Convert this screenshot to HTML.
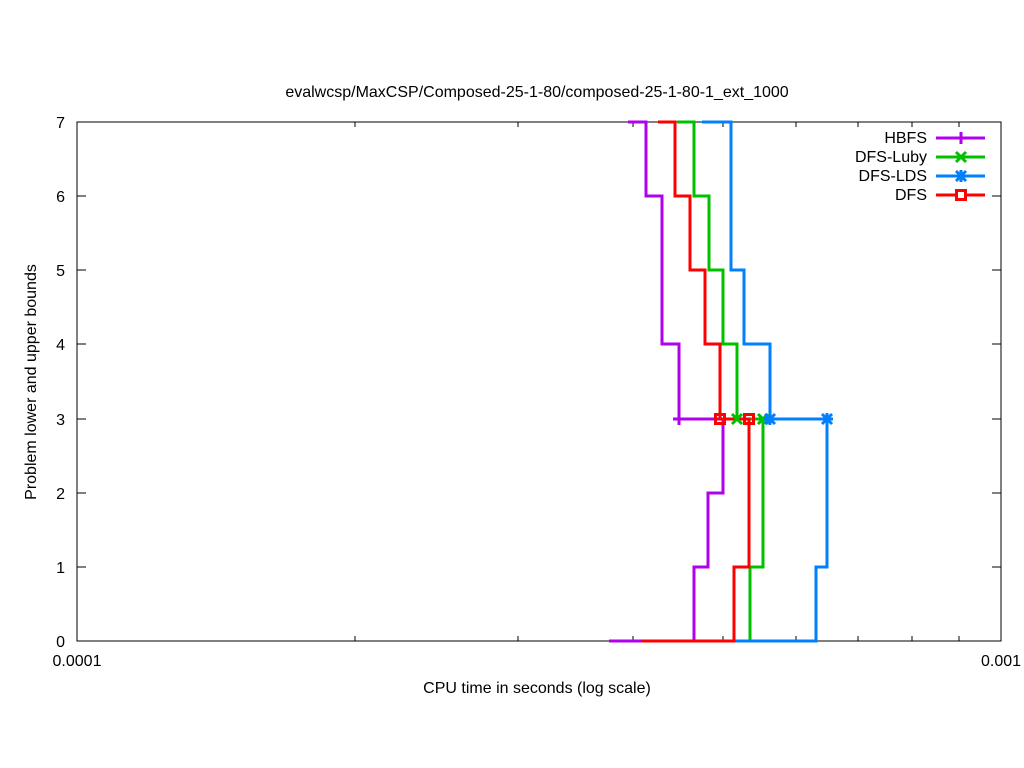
<!DOCTYPE html>
<html><head><meta charset="utf-8"><style>
html,body{margin:0;padding:0;background:#fff;}
svg{display:block;font-family:"Liberation Sans",sans-serif;}
</style></head><body>
<svg width="1024" height="768" viewBox="0 0 1024 768" xmlns="http://www.w3.org/2000/svg">
<rect width="1024" height="768" fill="#fff"/>
<text x="537" y="97" font-size="16" text-anchor="middle">evalwcsp/MaxCSP/Composed-25-1-80/composed-25-1-80-1_ext_1000</text>
<g stroke="#000" stroke-width="1" fill="none">
<path d="M77 641h9M1001 641h-9M77 567h9M1001 567h-9M77 493h9M1001 493h-9M77 419h9M1001 419h-9M77 344h9M1001 344h-9M77 270h9M1001 270h-9M77 196h9M1001 196h-9M77 122h9M1001 122h-9"/>
<path d="M77 641v-9M77 122v9M1001 641v-9M1001 122v9"/>
<path d="M355 641v-5M355 122v5M518 641v-5M518 122v5M633 641v-5M633 122v5M723 641v-5M723 122v5M796 641v-5M796 122v5M858 641v-5M858 122v5M912 641v-5M912 122v5M959 641v-5M959 122v5"/>
</g>
<g font-size="16" text-anchor="end">
<text x="65" y="647">0</text><text x="65" y="573">1</text><text x="65" y="499">2</text><text x="65" y="425">3</text><text x="65" y="350">4</text><text x="65" y="276">5</text><text x="65" y="202">6</text><text x="65" y="128">7</text>
</g>
<g font-size="16" text-anchor="middle">
<text x="77" y="666">0.0001</text><text x="1001" y="666">0.001</text>
<text x="537" y="693">CPU time in seconds (log scale)</text>
</g>
<text transform="translate(36 382) rotate(-90)" font-size="16" text-anchor="middle">Problem lower and upper bounds</text>
<rect x="77" y="122" width="924" height="519" fill="none" stroke="#000" stroke-width="1"/>
<g fill="none" stroke-width="3" stroke-linejoin="miter">
<path stroke="#b000f0" d="M628 122H646V196H662V344H679V419"/>
<path stroke="#b000f0" d="M674 419H723"/>
<path stroke="#b000f0" d="M723 419V493H708V567H694V641H609"/>
<path stroke="#00c000" d="M677 122H694V196H709V270H723V344H737V419H763V567H750V641"/>
<path stroke="#0080ff" d="M702 122H731V270H744V344H770V419H827V567H816V641H735"/>
<path stroke="#ff0000" d="M658 122H675V196H690V270H705V344H720V419H749V567H734V641H641"/>
</g>
<g stroke-width="3" fill="none">
<path stroke="#b000f0" d="M679 413v12M673 419h12"/>
<path stroke="#00c000" d="M732 414l10 10M742 414l-10 10M758 414l10 10M768 414l-10 10"/>
<path stroke="#0080ff" d="M765 414l10 10M775 414l-10 10M770 413v12M764 419h12M822 414l10 10M832 414l-10 10M827 413v12M821 419h12"/>
<rect stroke="#ff0000" x="715.5" y="414.5" width="9" height="9"/>
<rect stroke="#ff0000" x="744.5" y="414.5" width="9" height="9"/>
</g>
<g font-size="16" text-anchor="end">
<text x="927" y="143">HBFS</text>
<text x="927" y="162">DFS-Luby</text>
<text x="927" y="181">DFS-LDS</text>
<text x="927" y="200">DFS</text>
</g>
<g stroke-width="3">
<path stroke="#b000f0" d="M936 138H985"/>
<path stroke="#00c000" d="M936 157H985"/>
<path stroke="#0080ff" d="M936 176H985"/>
<path stroke="#ff0000" d="M936 195H985"/>
</g>
<g stroke-width="3" fill="none">
<path stroke="#b000f0" d="M961 132v12"/>
<path stroke="#00c000" d="M956 152l10 10M966 152l-10 10"/>
<path stroke="#0080ff" d="M956 171l10 10M966 171l-10 10M961 170v12"/>
<rect stroke="#ff0000" x="956.5" y="190.5" width="9" height="9" fill="#fff"/>
</g>
</svg>
</body></html>
